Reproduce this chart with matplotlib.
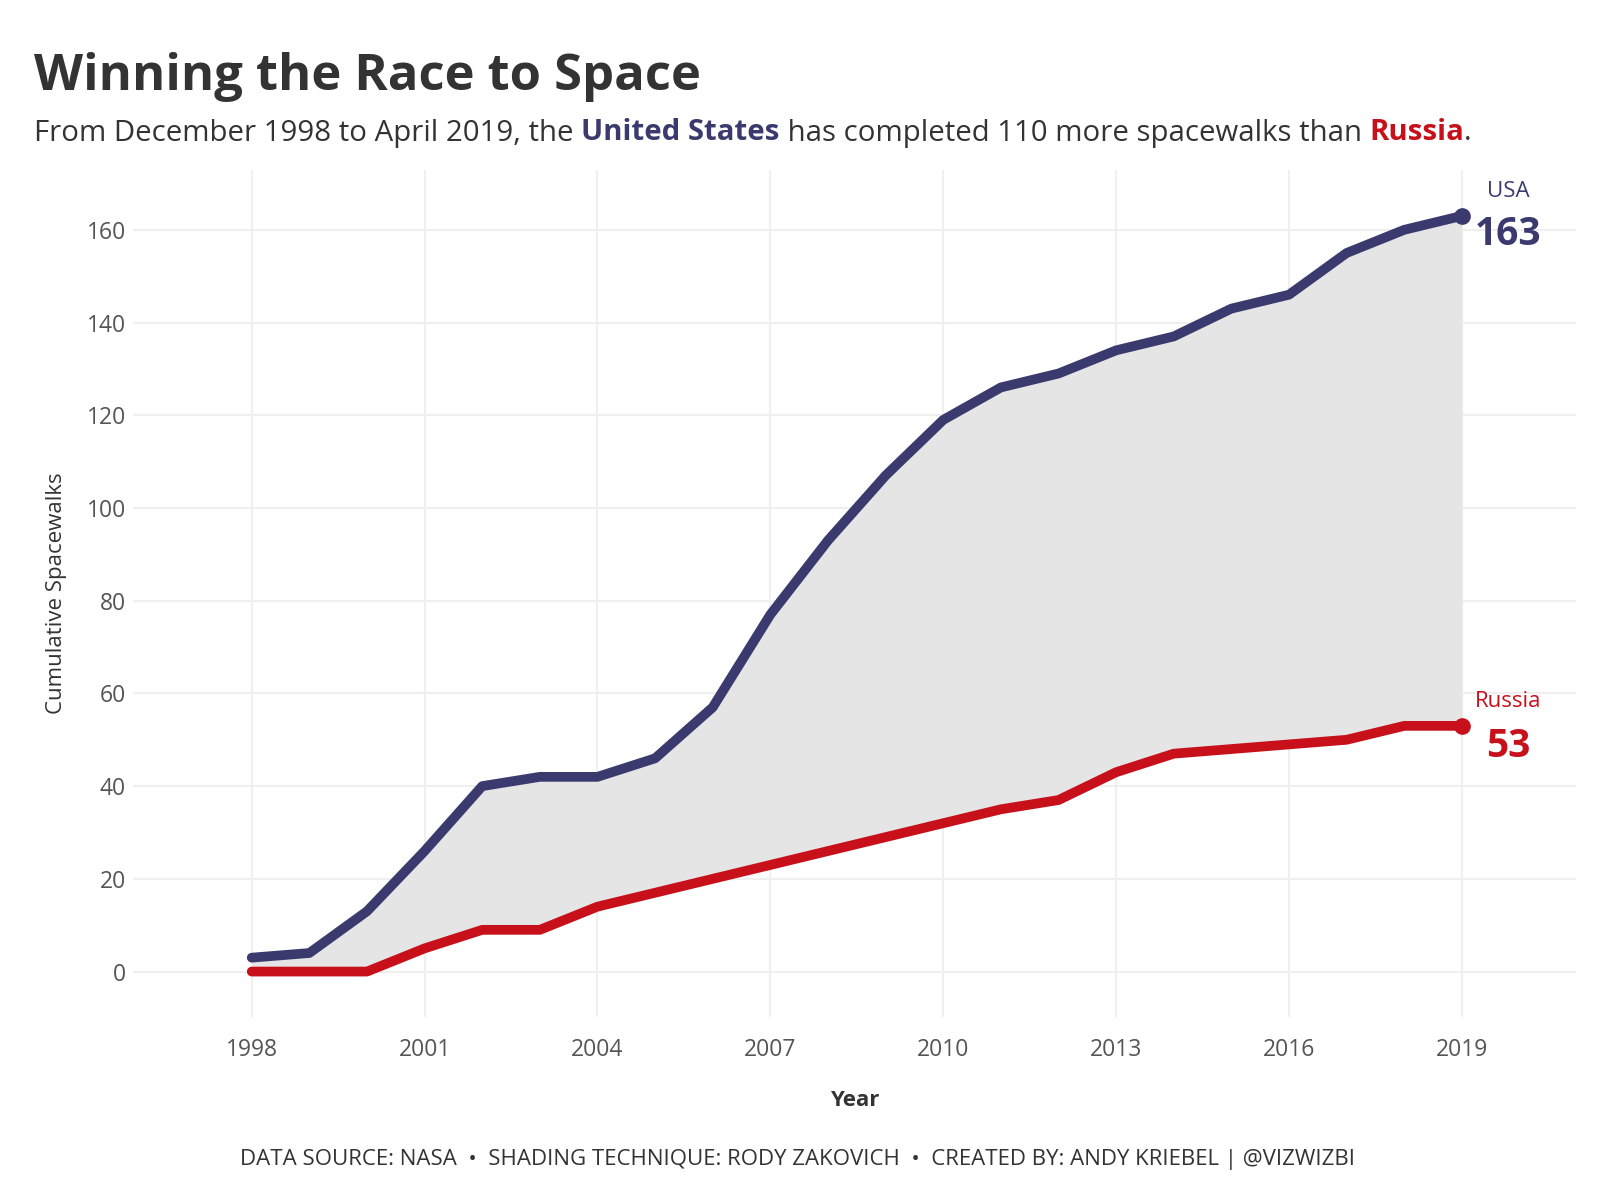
import matplotlib.pyplot as plt

years = list(range(1998, 2020))
usa = [3, 4, 13, 26, 40, 42, 42, 46, 57, 77, 93, 107, 119, 126, 129, 134, 137, 143, 146, 155, 160, 163]
russia = [0, 0, 0, 5, 9, 9, 14, 17, 20, 23, 26, 29, 32, 35, 37, 43, 47, 48, 49, 50, 53, 53]
xticks = [1998, 2001, 2004, 2007, 2010, 2013, 2016, 2019]
yticks = [0, 20, 40, 60, 80, 100, 120, 140, 160]

usa_col = "#3b3a6e"
rus_col = "#c8101b"
dark = "#333333"

plt.rcParams['font.family'] = ['Open Sans', 'DejaVu Sans']

W, H = 1600, 1200
fig = plt.figure(figsize=(16, 12), dpi=100)
ax = fig.add_axes([133 / W, 1 - 1017 / H, (1576 - 133) / W, (1017 - 170) / H])

ax.fill_between(years, russia, usa, color="#e5e5e5", lw=0, zorder=1)
ax.plot(years, usa, color=usa_col, lw=7, solid_capstyle="round", solid_joinstyle="round", zorder=3)
ax.plot(years, russia, color=rus_col, lw=7, solid_capstyle="round", solid_joinstyle="round", zorder=3)
ax.plot(years[-1], usa[-1], "o", color=usa_col, ms=11, zorder=4)
ax.plot(years[-1], russia[-1], "o", color=rus_col, ms=11, zorder=4)

ax.set_xlim(1995.94, 2020.98)
ax.set_ylim(-9.8, 172.9)
ax.set_xticks(xticks)
ax.set_yticks(yticks)
ax.grid(True, color="#efefef", lw=1.5, zorder=0)
ax.set_axisbelow(True)
for s in ax.spines.values():
    s.set_visible(False)
ax.tick_params(axis="x", length=0, labelsize=16.5, labelcolor="#555555", pad=15)
ax.tick_params(axis="y", length=0, labelsize=16.5, labelcolor="#555555", pad=5)
ax.set_xlabel("Year", fontsize=16, fontweight="bold", color=dark, labelpad=20)
ax.set_ylabel("Cumulative Spacewalks", fontsize=16, color=dark, labelpad=14)

# end labels
ax.text(2019.8, 168.2, "USA", color=usa_col, fontsize=16, ha="center", va="center")
ax.text(2019.8, 159.0, "163", color=usa_col, fontsize=28, fontweight="bold", ha="center", va="center")
ax.text(2019.8, 58.2, "Russia", color=rus_col, fontsize=16, ha="center", va="center")
ax.text(2019.8, 48.6, "53", color=rus_col, fontsize=28, fontweight="bold", ha="center", va="center")

# title and subtitle
fig.text(34 / W, 1 - 77 / H, "Winning the Race to Space", fontsize=36.5, fontweight="bold",
         color=dark, va="center", ha="left")

parts = [
    ("From December 1998 to April 2019, the ", dark, "normal"),
    ("United States", usa_col, "bold"),
    (" has completed 110 more spacewalks than ", dark, "normal"),
    ("Russia", rus_col, "bold"),
    (".", dark, "normal"),
]
renderer = fig.canvas.get_renderer()
x = 34 / W
for txt, col, wt in parts:
    t = fig.text(x, 1 - 133 / H, txt, fontsize=21.2, color=col, fontweight=wt, va="center", ha="left")
    bb = t.get_window_extent(renderer=renderer)
    x += bb.width / fig.bbox.width

fig.text(798 / W, 1 - 1160 / H,
         "DATA SOURCE: NASA  \u2022  SHADING TECHNIQUE: RODY ZAKOVICH  \u2022  CREATED BY: ANDY KRIEBEL | @VIZWIZBI",
         fontsize=16, color=dark, ha="center", va="center")

fig.savefig("out.png", dpi=100, facecolor="white")
